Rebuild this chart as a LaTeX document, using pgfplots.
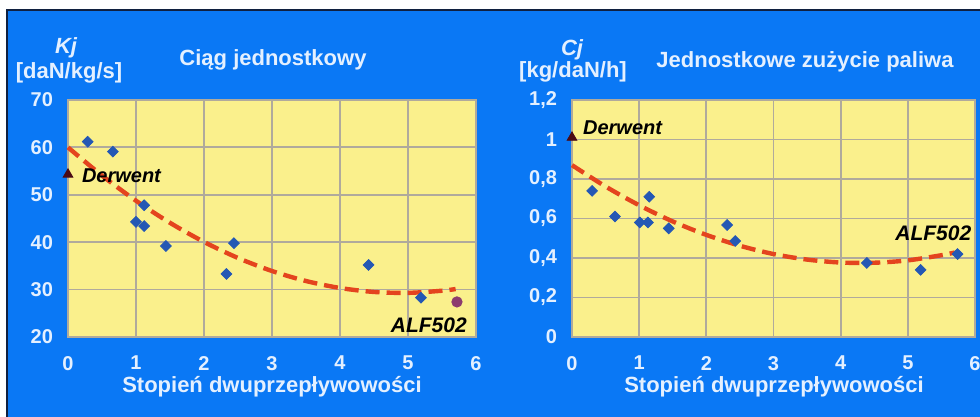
\documentclass[border=0pt]{standalone}
\usepackage{pgfplots}
\pgfplotsset{compat=1.18}
\usepackage{fontspec}
\setmainfont{Liberation Sans}

\definecolor{bgblue}{HTML}{0A78F5}
\definecolor{navy}{HTML}{102040}
\definecolor{plotyellow}{HTML}{FAF08C}
\definecolor{gridc}{HTML}{B0AA9C}
\definecolor{labc}{HTML}{E4F0FF}
\definecolor{diamc}{HTML}{2458B4}
\definecolor{curvec}{HTML}{E4441E}
\definecolor{tric}{HTML}{4A0A14}
\definecolor{alfc}{HTML}{8C3C6E}

\pgfplotsset{
  mystyle/.style={
    scale only axis,
    height=118.5pt,
    xmin=0, xmax=6, xtick={0,1,2,3,4,5,6},
    axis background/.style={fill=plotyellow},
    grid=major,
    major grid style={gridc, line width=0.9pt},
    axis line style={gridc, line width=0.9pt},
    tick style={draw=none},
    ticklabel style={font=\bfseries\fontsize{10}{12}\selectfont, text=labc},
    /pgf/number format/assume math mode=true,
    yticklabel style={xshift=-4pt},
    xticklabel style={yshift=-6pt},
    clip=false,
  },
  diam/.style={only marks, mark=square*, mark size=1.9pt, color=diamc,
    every mark/.append style={rotate=45}},
  fit/.style={no marks, smooth, color=curvec, line width=2.2pt, dash pattern=on 7pt off 3.5pt},
  tri/.style={only marks, mark=triangle*, mark size=2.8pt, color=tric},
}

\begin{document}
\begin{tikzpicture}
\useasboundingbox (0,0) rectangle (490pt,208.5pt);
\fill[white] (0,0) rectangle (490pt,208.5pt);
\fill[bgblue] (3.5pt,0) rectangle (490pt,203.5pt);
\draw[navy, line width=0.8pt] (3.5pt,0) -- (3.5pt,203.5pt) -- (490pt,203.5pt);

% Left chart
\begin{axis}[mystyle, at={(34pt,40pt)}, anchor=south west, width=204pt,
  ymin=20, ymax=70, ytick={20,30,40,50,60,70}]
\addplot[fit] coordinates {(0,60.0) (0.5,54.06) (1.0,48.75) (1.5,44.09) (2.0,40.06) (2.5,36.67) (3.0,33.92) (3.5,31.81) (4.0,30.34) (4.5,29.50) (5.0,29.31) (5.5,29.76) (5.7,30.12)};
\addplot[diam] coordinates {(0.29,61.2) (0.66,59.1) (1.12,47.8) (1.0,44.3) (1.12,43.4) (1.44,39.2) (2.33,33.3) (2.44,39.8) (4.42,35.2) (5.19,28.3)};
\addplot[only marks, mark=*, mark size=2.6pt, color=alfc] coordinates {(5.72,27.4)};
\addplot[tri] coordinates {(0,54.3)};
\node[anchor=west, inner sep=0pt, font=\bfseries\itshape\fontsize{10}{12}\selectfont] at (axis cs:0.2,54) {Derwent};
\node[anchor=east, inner sep=0pt, font=\bfseries\itshape\fontsize{10.5}{12}\selectfont] at (axis cs:5.87,22.5) {ALF502};
\end{axis}

% Right chart
\begin{axis}[mystyle, at={(286pt,40pt)}, anchor=south west, width=201.5pt,
  ymin=0, ymax=1.2, ytick={0,0.2,0.4,0.6,0.8,1,1.2},
  yticklabel style={/pgf/number format/.cd, use comma, fixed}]
\addplot[fit] coordinates {(0,0.870) (0.5,0.762) (1.0,0.667) (1.5,0.585) (2.0,0.517) (2.5,0.462) (3.0,0.420) (3.5,0.392) (4.0,0.377) (4.5,0.376) (5.0,0.388) (5.5,0.414) (5.7,0.428)};
\addplot[diam] coordinates {(0.30,0.74) (0.64,0.61) (1.01,0.58) (1.13,0.58) (1.15,0.71) (1.44,0.55) (2.31,0.567) (2.43,0.486) (4.39,0.375) (5.19,0.34) (5.74,0.42)};
\addplot[tri] coordinates {(0,1.01)};
\node[anchor=west, inner sep=0pt, font=\bfseries\itshape\fontsize{10}{12}\selectfont] at (axis cs:0.16,1.06) {Derwent};
\node[anchor=east, inner sep=0pt, font=\bfseries\itshape\fontsize{10.5}{12}\selectfont] at (axis cs:5.95,0.527) {ALF502};
\end{axis}

% Text labels
\begin{scope}[every node/.style={text=labc, inner sep=0pt}]
\node[font=\bfseries\fontsize{11}{13}\selectfont] at (136.5pt,178.5pt) {Ciąg jednostkowy};
\node[font=\bfseries\fontsize{11}{13}\selectfont] at (402.5pt,177.5pt) {Jednostkowe zużycie paliwa};
\node[font=\bfseries\itshape\fontsize{11}{13}\selectfont] at (33pt,184.5pt) {Kj};
\node[font=\bfseries\fontsize{11}{13}\selectfont] at (34.5pt,172pt) {[daN/kg/s]};
\node[font=\bfseries\itshape\fontsize{11}{13}\selectfont] at (286pt,183.5pt) {Cj};
\node[font=\bfseries\fontsize{11}{13}\selectfont] at (286.5pt,172.5pt) {[kg/daN/h]};
\node[font=\bfseries\fontsize{11}{13}\selectfont] at (136pt,15pt) {Stopień dwuprzepływowości};
\node[font=\bfseries\fontsize{11}{13}\selectfont] at (387pt,15pt) {Stopień dwuprzepływowości};
\end{scope}
\end{tikzpicture}
\end{document}
